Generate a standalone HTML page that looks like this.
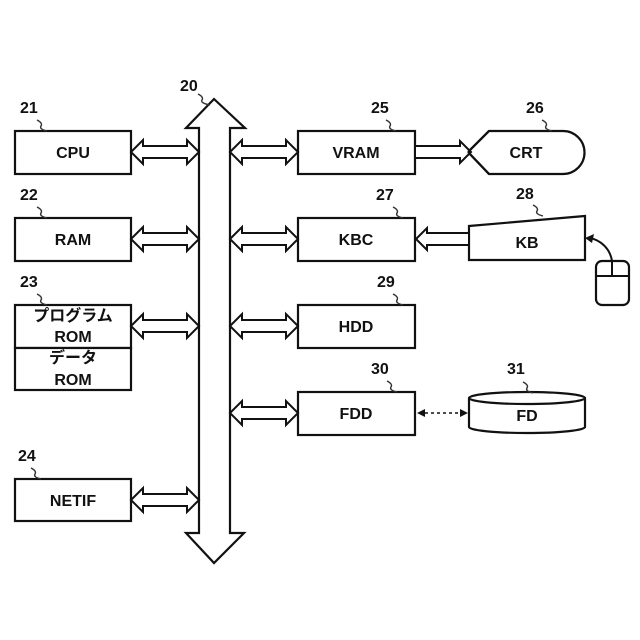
<!DOCTYPE html>
<html><head><meta charset="utf-8"><style>body{margin:0;background:#fff}svg{display:block}</style></head><body>
<svg width="640" height="640" viewBox="0 0 640 640" xmlns="http://www.w3.org/2000/svg" font-family="Liberation Sans, Noto Sans CJK JP, sans-serif" font-weight="bold">
<rect width="640" height="640" fill="#fff"/>
<g fill="#fff" stroke="#111" stroke-width="2.2">
<polygon points="214,99 245,128 230,128 230,533 244,533 214,563 186,533 199,533 199,128 186,128"/>
<rect x="15" y="131" width="116" height="43"/>
<rect x="15" y="218" width="116" height="43"/>
<rect x="15" y="305" width="116" height="43"/>
<rect x="15" y="348" width="116" height="42"/>
<rect x="15" y="479" width="116" height="42"/>
<rect x="298" y="131" width="117" height="43"/>
<rect x="298" y="218" width="117" height="43"/>
<rect x="298" y="305" width="117" height="43"/>
<rect x="298" y="392" width="117" height="43"/>
<path d="M468,152 L489,131 L563,131 A21.5,21.5 0 0 1 563,174 L489,174 Z"/>
<polygon points="469,226 585,216 585,260 469,260"/>
<path d="M469,398 L469,427 A58,6 0 0 0 585,427 L585,398"/>
<ellipse cx="527" cy="398" rx="58" ry="6"/>
<rect x="596" y="261" width="33" height="44" rx="6"/>
</g>
<g fill="none" stroke="#111" stroke-width="2">
<line x1="596" y1="276" x2="629" y2="276"/>
<line x1="612" y1="261" x2="612" y2="276"/>
<path d="M612,261 C610,248 600,240 590,238"/>
</g>
<polygon points="585,238 594,234 592,243" fill="#111"/>
<g fill="#fff" stroke="#111" stroke-width="2">
<polygon points="131,152 143,140 143,146 187,146 187,140 199,152 187,164 187,158 143,158 143,164"/>
<polygon points="131,239 143,227 143,233 187,233 187,227 199,239 187,251 187,245 143,245 143,251"/>
<polygon points="131,326 143,314 143,320 187,320 187,314 199,326 187,338 187,332 143,332 143,338"/>
<polygon points="131,500 143,488 143,494 187,494 187,488 199,500 187,512 187,506 143,506 143,512"/>
<polygon points="230,152 242,140 242,146 286,146 286,140 298,152 286,164 286,158 242,158 242,164"/>
<polygon points="230,239 242,227 242,233 286,233 286,227 298,239 286,251 286,245 242,245 242,251"/>
<polygon points="230,326 242,314 242,320 286,320 286,314 298,326 286,338 286,332 242,332 242,338"/>
<polygon points="230,413 242,401 242,407 286,407 286,401 298,413 286,425 286,419 242,419 242,425"/>
<polygon points="415,146 460,146 460,141 471,152 460,163 460,158 415,158"/>
<polygon points="469,233 427,233 427,228 416,239 427,250 427,245 469,245"/>
</g>
<path d="M468,152 L489,131 M468,152 L489,174" stroke="#111" stroke-width="2.2" fill="none"/>
<line x1="425" y1="413" x2="460" y2="413" stroke="#111" stroke-width="1.5" stroke-dasharray="3,3"/>
<polygon points="417,413 425,409 425,417" fill="#111"/>
<polygon points="468,413 460,409 460,417" fill="#111"/>
<g fill="none" stroke="#333" stroke-width="1.4">
<path d="M37,120 q6,3 4,6 q-2,3 6,5"/><path d="M37,207 q6,3 4,6 q-2,3 6,5"/><path d="M37,294 q6,3 4,6 q-2,3 6,5"/><path d="M31,468 q6,3 4,6 q-2,3 6,5"/>
<path d="M198,94 q6,3 4,6 q-2,3 8,5"/>
<path d="M386,120 q6,3 4,6 q-2,3 6,5"/><path d="M542,120 q6,3 4,6 q-2,3 6,5"/><path d="M393,207 q6,3 4,6 q-2,3 6,5"/><path d="M533,205 q6,3 4,6 q-2,3 6,5"/><path d="M393,294 q6,3 4,6 q-2,3 6,5"/><path d="M387,381 q6,3 4,6 q-2,3 6,5"/><path d="M523,382 q6,3 4,6 q-2,3 6,5"/>
</g>
<g font-size="16" fill="#111" text-anchor="middle">
<text x="73" y="158">CPU</text>
<text x="73" y="245">RAM</text>
<text x="73" y="321">プログラム</text>
<text x="73" y="342">ROM</text>
<text x="73" y="363">データ</text>
<text x="73" y="385">ROM</text>
<text x="73" y="506">NETIF</text>
<text x="356" y="158">VRAM</text>
<text x="356" y="245">KBC</text>
<text x="356" y="332">HDD</text>
<text x="356" y="419">FDD</text>
<text x="526" y="158">CRT</text>
<text x="527" y="248">KB</text>
<text x="527" y="421">FD</text>
</g>
<g font-size="16" fill="#111">
<text x="20" y="113">21</text><text x="20" y="200">22</text><text x="20" y="287">23</text><text x="18" y="461">24</text>
<text x="180" y="91">20</text>
<text x="371" y="113">25</text><text x="526" y="113">26</text><text x="376" y="200">27</text><text x="516" y="199">28</text><text x="377" y="287">29</text><text x="371" y="374">30</text><text x="507" y="374">31</text>
</g>
</svg>
</body></html>
